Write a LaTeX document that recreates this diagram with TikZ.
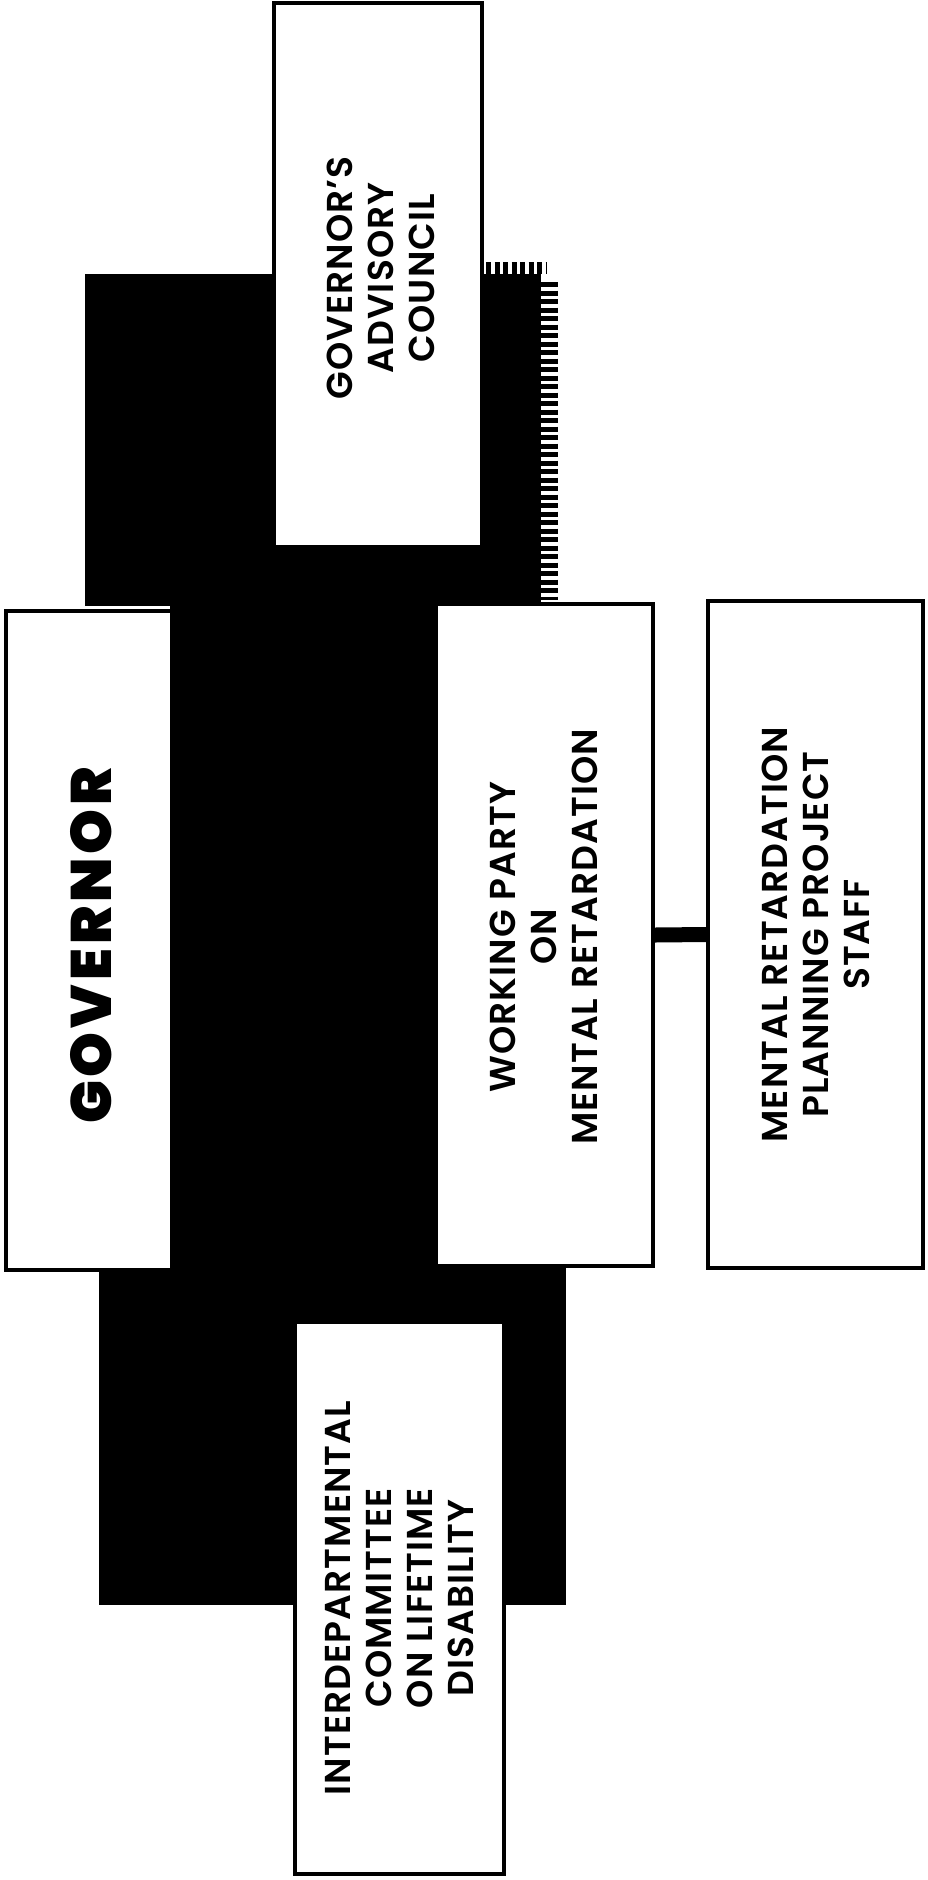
\documentclass[tikz,border=0pt]{standalone}
\usepackage{fontspec}
\usetikzlibrary{calc}
\setmainfont{Poppins}
\IfFontExistsTF{Poppins SemiBold}
  {\newfontfamily\lblfont[LetterSpace=3]{Poppins SemiBold}}
  {\IfFontExistsTF{Poppins Medium}
    {\newfontfamily\lblfont[LetterSpace=3]{Poppins Medium}}
    {\newfontfamily\lblfont[LetterSpace=3,FakeBold=1.2]{Poppins}}}
\IfFontExistsTF{Poppins Black}
  {\newfontfamily\govfont[LetterSpace=7]{Poppins Black}}
  {\IfFontExistsTF{Poppins ExtraBold}
    {\newfontfamily\govfont[LetterSpace=7]{Poppins ExtraBold}}
    {\newfontfamily\govfont[LetterSpace=7,FakeBold=2]{Poppins Bold}}}
\begin{document}
\begin{tikzpicture}[x=1pt,y=-1pt,
  box/.style={draw=black, fill=white, line width=3.5pt, rectangle, inner sep=0pt},
  blk/.style={fill=black},
  lbl/.style={rotate=90, align=center, inner sep=0pt, text=black,
              font=\lblfont\fontsize{36}{41}\selectfont},
  govlbl/.style={rotate=90, inner sep=0pt, text=black,
              font=\govfont\fontsize{57}{57}\selectfont},
  link/.style={draw=black, line width=15pt},
  teeth/.style={draw=black, dash pattern=on 5pt off 3.5pt}]
\useasboundingbox (0,0) rectangle (928,1880);
\fill[white] (0,0) rectangle (928,1880);
% black background block
\fill[blk] (85,274) rectangle (541,606);
\fill[blk] (170,600) rectangle (440,1272);
\fill[blk] (99,1266) rectangle (566,1605);
% toothed edges
\draw[teeth, line width=17pt] (549,282) -- (549,600);
\draw[teeth, line width=12pt] (486,268) -- (546,268);
% boxes
\node[box, minimum width=208pt, minimum height=544pt] (adv) at (378,275) {};
\node[box, minimum width=166pt, minimum height=659pt] (gov) at (89,940.5) {};
\node[box, minimum width=217pt, minimum height=662pt] (wp) at (544.5,935) {};
\node[box, minimum width=215pt, minimum height=667pt] (staff) at (815.5,934.5) {};
\node[box, minimum width=209pt, minimum height=552pt] (inter) at (399.5,1598) {};
% connector
\draw[link] (wp.east) -- (staff.west);
% labels
\node[lbl] (advt) at ($(adv.center)+(3,3)$) {GOVERNOR’S\\ADVISORY\\COUNCIL};
\node[govlbl] (govt) at ($(gov.center)+(2,5)$) {GOVERNOR};
\node[lbl] (wpt) at ($(wp.center)+(-1,2)$) {WORKING PARTY\\ON\\MENTAL RETARDATION};
\node[lbl] (stafft) at (staff.center) {MENTAL RETARDATION\\PLANNING PROJECT\\STAFF};
\node[lbl] (intert) at (inter.center) {INTERDEPARTMENTAL\\COMMITTEE\\ON LIFETIME\\DISABILITY};
\end{tikzpicture}
\end{document}
